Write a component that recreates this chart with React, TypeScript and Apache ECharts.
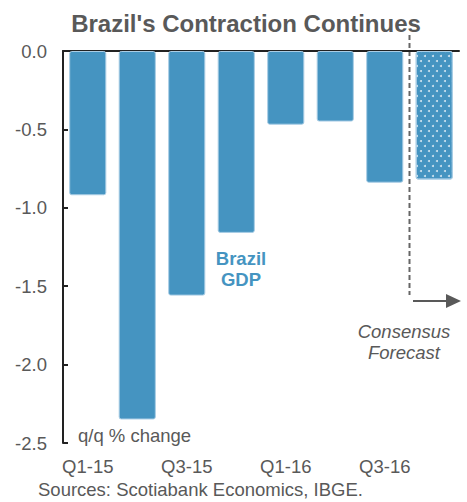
import React, { useEffect, useRef } from "react";
import * as echarts from "echarts";

const categories = ["Q1-15", "Q2-15", "Q3-15", "Q4-15", "Q1-16", "Q2-16", "Q3-16", "Q4-16"];
const gdpValues = [-0.92, -2.35, -1.56, -1.16, -0.47, -0.45, -0.84, -0.82];
const forecastFlags = [false, false, false, false, false, false, false, true];
const yTicks = { min: -2.5, max: 0, interval: 0.5 };

const FONT = "'Liberation Sans', Arial, sans-serif";
const BLUE = "#4594c1";
const GRAY = "#595959";
const FS = 18.5;

export default function App() {
  const ref = useRef<HTMLDivElement>(null);
  useEffect(() => {
    if (!ref.current) return;
    const chart = echarts.init(ref.current, null, { renderer: "svg" });
    const data = gdpValues.map((v, i) =>
      forecastFlags[i]
        ? {
            value: v,
            itemStyle: {
              color: BLUE,
              decal: {
                symbol: "circle",
                symbolSize: 1,
                color: "rgba(255,255,255,0.75)",
                backgroundColor: BLUE,
                dashArrayX: [[1.6, 5.4], [0, 3.5, 1.6, 1.9]],
                dashArrayY: [1.6, 2.2],
              },
            },
          }
        : v
    );
    chart.setOption({
      animation: false,
      title: {
        text: "Brazil's Contraction Continues",
        left: 241,
        textAlign: "center",
        top: 6,
        textStyle: { fontFamily: FONT, fontSize: 24, fontWeight: "bold", color: GRAY },
      },
      grid: { left: 63, right: 8, top: 51, bottom: 59, containLabel: false },
      xAxis: [
        {
          type: "category",
          data: categories,
          position: "top",
          axisLine: { lineStyle: { color: "#222", width: 2 } },
          axisTick: { inside: true, length: 5, lineStyle: { color: "#222", width: 2 } },
          axisLabel: { show: false },
        },
        {
          type: "category",
          data: categories,
          position: "bottom",
          axisLine: { show: false },
          axisTick: { show: false },
          axisLabel: { interval: 1, margin: 14, fontFamily: FONT, fontSize: FS, color: GRAY },
        },
      ],
      yAxis: {
        type: "value",
        min: yTicks.min,
        max: yTicks.max,
        interval: yTicks.interval,
        axisLine: { show: true, lineStyle: { color: "#222", width: 2 } },
        axisTick: { show: true, inside: true, length: 5, lineStyle: { color: "#222", width: 2 } },
        splitLine: { show: false },
        axisLabel: {
          margin: 16,
          fontFamily: FONT,
          fontSize: FS,
          color: GRAY,
          formatter: (v: number) => v.toFixed(1),
        },
      },
      series: [
        {
          type: "bar",
          data,
          xAxisIndex: 0,
          barCategoryGap: "25%",
          itemStyle: { color: BLUE, borderColor: "#a9cde5", borderWidth: 1, borderRadius: 2 },
        },
      ],
      graphic: [
        {
          type: "line",
          shape: { x1: 409.5, y1: 35, x2: 409.5, y2: 295 },
          style: { stroke: "#666", lineWidth: 2, lineDash: [5, 3] },
        },
        {
          type: "line",
          shape: { x1: 413, y1: 301, x2: 448, y2: 301 },
          style: { stroke: GRAY, lineWidth: 2 },
        },
        {
          type: "polygon",
          shape: { points: [[446, 294], [461, 301], [446, 308]] },
          style: { fill: GRAY },
        },
        {
          type: "text",
          x: 241,
          y: 248,
          style: {
            text: "Brazil\nGDP",
            fontFamily: FONT,
            fontSize: FS,
            fontWeight: "bold",
            fill: BLUE,
            align: "center",
            lineHeight: 21,
          },
        },
        {
          type: "text",
          x: 404,
          y: 321,
          style: {
            text: "Consensus\nForecast",
            fontFamily: FONT,
            fontSize: FS,
            fontStyle: "italic",
            fill: GRAY,
            align: "center",
            lineHeight: 21,
          },
        },
        {
          type: "text",
          x: 78,
          y: 426,
          style: { text: "q/q % change", fontFamily: FONT, fontSize: FS, fill: GRAY },
        },
        {
          type: "text",
          x: 38,
          y: 480,
          style: { text: "Sources: Scotiabank Economics, IBGE.", fontFamily: FONT, fontSize: FS, fill: GRAY },
        },
      ],
    });
    return () => chart.dispose();
  }, []);
  return <div ref={ref} style={{ width: 467, height: 502, position: "absolute", left: 0, top: 0 }} />;
}
